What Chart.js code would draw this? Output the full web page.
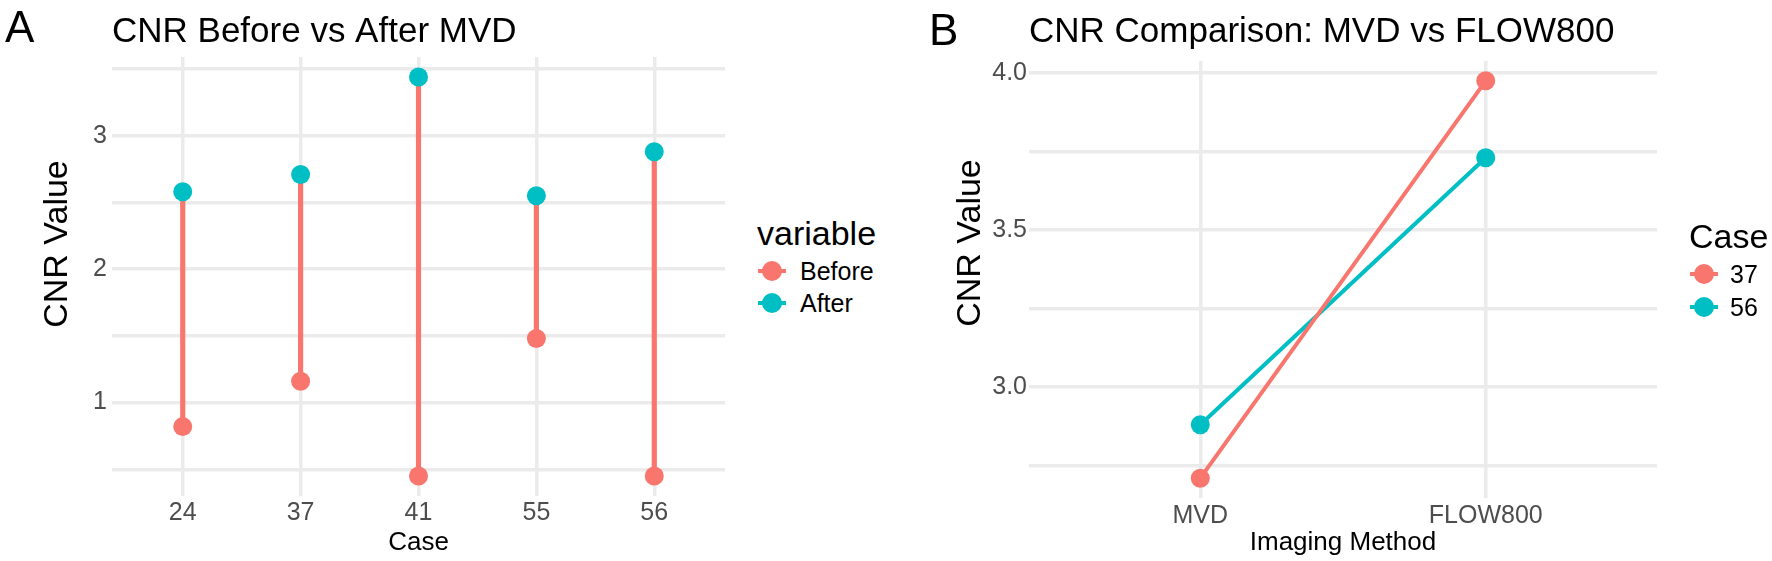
<!DOCTYPE html>
<html>
<head>
<meta charset="utf-8">
<script src="https://cdn.jsdelivr.net/npm/chart.js@4.4.1/dist/chart.umd.min.js"></script>
<style>
  body { margin: 0; background: #fff; font-family: "Liberation Sans", Arial, sans-serif; }
  #wrap { position: relative; width: 1772px; height: 561px; overflow: hidden; }
  canvas { position: absolute; top: 0; }
  .tag { position: absolute; font-size: 44px; line-height: 44px; color: #000; }
  .ytitle { position: absolute; width: 240px; height: 40px; line-height: 40px; font-size: 34px;
            text-align: center; transform: rotate(-90deg); color: #000; white-space: nowrap; }
  .lgTitle { position: absolute; font-size: 34px; line-height: 40px; color: #000; white-space: nowrap; }
  .lgText { position: absolute; font-size: 25px; line-height: 32px; color: #000; white-space: nowrap; }
  .lgLine { position: absolute; width: 28px; height: 4px; }
  .lgDot { position: absolute; width: 20px; height: 20px; border-radius: 50%; }
</style>
</head>
<body>
<div id="wrap">
  <canvas id="chartA" width="740" height="561" style="left:0px"></canvas>
  <canvas id="chartB" width="892" height="561" style="left:880px"></canvas>
  <div class="tag" style="left:5px; top:5px">A</div>
  <div class="tag" style="left:929px; top:8px">B</div>
  <div class="ytitle" style="left:-65px; top:224px">CNR Value</div>
  <div class="ytitle" style="left:848px; top:223px">CNR Value</div>
</div>
<script>
// panel A: CNR before / after MVD
const cases = ['24', '37', '41', '55', '56'];
const cnrBefore = [0.82, 1.16, 0.45, 1.48, 0.45];
const cnrAfter = [2.58, 2.71, 3.44, 2.55, 2.88];
const yTicksA = [0.5, 1, 1.5, 2, 2.5, 3, 3.5];
const yLabelsA = [1, 2, 3];

// panel B: MVD vs FLOW800
const methods = ['MVD', 'FLOW800'];
const compareCases = ['37', '56'];
const case37 = [2.71, 3.975];
const case56 = [2.88, 3.73];
const yTicksB = [2.75, 3.0, 3.25, 3.5, 3.75, 4.0];
const yLabelsB = [3.0, 3.5, 4.0];

const RED = '#F8766D';
const TEAL = '#00BFC4';
const GRID = '#EBEBEB';
const TICK = '#4D4D4D';
const FONT = "'Liberation Sans', Arial, sans-serif";

function gridOpts() {
    return { color: GRID, lineWidth: 3.5, drawTicks: false, offset: false };
}

// Grafik A
new Chart(document.getElementById('chartA'), {
    type: 'bar',
    data: {
        datasets: [
            {
                type: 'bar',
                label: 'segment',
                data: cases.map((c, i) => ({ x: i, y: [cnrBefore[i], cnrAfter[i]] })),
                backgroundColor: RED,
                barThickness: 4.5,
                order: 3
            },
            {
                type: 'line',
                label: 'Before',
                data: cases.map((c, i) => ({ x: i, y: cnrBefore[i] })),
                showLine: false,
                pointRadius: 9.5,
                pointBorderWidth: 0,
                pointBackgroundColor: RED,
                borderColor: RED,
                backgroundColor: RED,
                order: 2
            },
            {
                type: 'line',
                label: 'After',
                data: cases.map((c, i) => ({ x: i, y: cnrAfter[i] })),
                showLine: false,
                pointRadius: 9.5,
                pointBorderWidth: 0,
                pointBackgroundColor: TEAL,
                borderColor: TEAL,
                backgroundColor: TEAL,
                order: 1
            }
        ]
    },
    options: {
        responsive: false,
        animation: false,
        layout: { padding: { left: 0, right: 15, top: 0, bottom: 0 } },
        plugins: {
            legend: { display: false },
            tooltip: { enabled: false },
            title: {
                display: true,
                text: 'CNR Before vs After MVD',
                align: 'start',
                fullSize: false,
                color: '#000',
                font: { family: FONT, size: 35, weight: 'normal' },
                padding: { top: 11, bottom: 4 }
            }
        },
        scales: {
            x: {
                type: 'linear',
                min: -0.6,
                max: 4.6,
                offset: false,
                grid: gridOpts(),
                border: { display: false },
                afterBuildTicks: s => { s.ticks = cases.map((c, i) => ({ value: i })); },
                afterFit: s => { s.height = 65; },
                ticks: {
                    callback: v => cases[v],
                    color: TICK,
                    font: { family: FONT, size: 25 },
                    padding: 2,
                    autoSkip: false,
                    maxRotation: 0
                },
                title: {
                    display: true,
                    text: 'Case',
                    color: '#000',
                    font: { family: FONT, size: 26 },
                    padding: { top: 0, bottom: 3 }
                }
            },
            y: {
                min: 0.3,
                max: 3.59,
                grid: gridOpts(),
                border: { display: false },
                afterBuildTicks: s => { s.ticks = yTicksA.map(v => ({ value: v })); },
                afterFit: s => { s.width = 112; },
                ticks: {
                    callback: v => yLabelsA.includes(v) ? String(v) : '',
                    color: TICK,
                    font: { family: FONT, size: 25 },
                    padding: 5
                }
            }
        }
    }
});

// Grafik B
const lineSets = [case37, case56].map((vals, k) => ({
    type: 'line',
    label: compareCases[k],
    data: methods.map((m, i) => ({ x: i, y: vals[i] })),
    borderColor: k === 0 ? RED : TEAL,
    backgroundColor: k === 0 ? RED : TEAL,
    pointBackgroundColor: k === 0 ? RED : TEAL,
    borderWidth: 4,
    pointRadius: 9.5,
    pointBorderWidth: 0,
    tension: 0
}));

new Chart(document.getElementById('chartB'), {
    type: 'line',
    data: { datasets: lineSets },
    options: {
        responsive: false,
        animation: false,
        layout: { padding: { left: 0, right: 115, top: 0, bottom: 0 } },
        plugins: {
            legend: { display: false },
            tooltip: { enabled: false },
            title: {
                display: true,
                text: 'CNR Comparison: MVD vs FLOW800',
                align: 'start',
                fullSize: false,
                color: '#000',
                font: { family: FONT, size: 35, weight: 'normal' },
                padding: { top: 11, bottom: 8 }
            }
        },
        scales: {
            x: {
                type: 'linear',
                min: -0.6,
                max: 1.6,
                grid: gridOpts(),
                border: { display: false },
                afterBuildTicks: s => { s.ticks = methods.map((m, i) => ({ value: i })); },
                afterFit: s => { s.height = 63; },
                ticks: {
                    callback: v => methods[v],
                    color: TICK,
                    font: { family: FONT, size: 25 },
                    padding: 3,
                    autoSkip: false,
                    maxRotation: 0
                },
                title: {
                    display: true,
                    text: 'Imaging Method',
                    color: '#000',
                    font: { family: FONT, size: 26 },
                    padding: { top: 0, bottom: 3 }
                }
            },
            y: {
                min: 2.647,
                max: 4.038,
                grid: gridOpts(),
                border: { display: false },
                afterBuildTicks: s => { s.ticks = yTicksB.map(v => ({ value: v })); },
                afterFit: s => { s.width = 149; },
                ticks: {
                    callback: v => yLabelsB.includes(v) ? v.toFixed(1) : '',
                    color: TICK,
                    font: { family: FONT, size: 25 },
                    padding: 2
                }
            }
        }
    }
});

// legends (ggplot style: line through dot)
function addLegend(title, names, colors, left, titleTop, rowTop, rowH, keyCx, textLeft) {
    const wrap = document.getElementById('wrap');
    const t = document.createElement('div');
    t.className = 'lgTitle';
    t.style.left = left + 'px';
    t.style.top = titleTop + 'px';
    t.textContent = title;
    wrap.appendChild(t);
    names.forEach((n, i) => {
        const cy = rowTop + i * rowH + 16;
        const ln = document.createElement('div');
        ln.className = 'lgLine';
        ln.style.background = colors[i];
        ln.style.left = (keyCx - 14) + 'px';
        ln.style.top = (cy - 2) + 'px';
        wrap.appendChild(ln);
        const dot = document.createElement('div');
        dot.className = 'lgDot';
        dot.style.background = colors[i];
        dot.style.left = (keyCx - 10) + 'px';
        dot.style.top = (cy - 10) + 'px';
        wrap.appendChild(dot);
        const tx = document.createElement('div');
        tx.className = 'lgText';
        tx.style.left = textLeft + 'px';
        tx.style.top = (rowTop + i * rowH) + 'px';
        tx.textContent = n;
        wrap.appendChild(tx);
    });
}

addLegend('variable', ['Before', 'After'], [RED, TEAL], 757, 213, 255, 32, 772, 800);
addLegend('Case', compareCases, [RED, TEAL], 1689, 216, 258, 33, 1704, 1730);
</script>
</body>
</html>
